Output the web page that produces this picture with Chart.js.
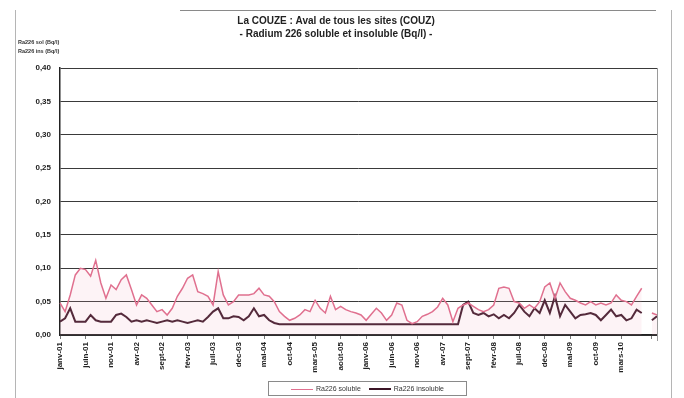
<!DOCTYPE html>
<html>
<head>
<meta charset="utf-8">
<script src="https://cdn.jsdelivr.net/npm/chart.js@4/dist/chart.umd.min.js"></script>
<style>
  html, body { margin: 0; padding: 0; background: #fff; }
  body { width: 684px; height: 398px; position: relative; overflow: hidden; font-family: "Liberation Sans", Arial, sans-serif; }
  #wrap { position: absolute; left: 0; top: 0; width: 684px; height: 398px; }
  .frame { position: absolute; left: 15px; top: 10px; width: 655px; height: 400px; border-left: 1px solid #b5b5b5; border-right: 1px solid #b5b5b5; }
  .topline { position: absolute; left: 180px; top: 10px; width: 476px; height: 0; border-top: 1px solid #8a8a8a; }
  .ytitle { position: absolute; left: 18px; top: 38px; font-size: 5.5px; font-weight: bold; color: #333; line-height: 9px; white-space: nowrap; }
  .legend { position: absolute; left: 268px; top: 381px; width: 197px; height: 13px; border: 1px solid #8a8a8a; font-size: 7px; color: #333; display: flex; align-items: center; justify-content: center; gap: 8px; }
  .legend span.l { display: inline-block; width: 22px; height: 0; vertical-align: middle; margin-right: 3px; }
</style>
</head>
<body>
<div id="wrap"><canvas id="js-chartjs-couze" width="684" height="398"></canvas></div>
<div class="frame"></div>
<div class="topline"></div>
<div class="ytitle">Ra226 sol (Bq/l)<br>Ra226 ins (Bq/l)</div>
<div class="legend">
  <span><span class="l" style="border-top:1.5px solid #e0708f"></span>Ra226 soluble</span>
  <span><span class="l" style="border-top:2px solid #3b1526"></span>Ra226 insoluble</span>
</div>
<script>
// Tick labels (one every 5 samples)
const tickLabels = ['janv-01', 'juin-01', 'nov-01', 'avr-02', 'sept-02', 'févr-03', 'juil-03', 'déc-03',
  'mai-04', 'oct-04', 'mars-05', 'août-05', 'janv-06', 'juin-06', 'nov-06', 'avr-07', 'sept-07',
  'févr-08', 'juil-08', 'déc-08', 'mai-09', 'oct-09', 'mars-10'];

// Ra226 soluble (Bq/l)
const soluble = [
  0.048, 0.035, 0.060, 0.090, 0.100, 0.098, 0.088, 0.112, 0.078, 0.055,
  0.075, 0.068, 0.083, 0.090, 0.068, 0.045, 0.060, 0.055, 0.045, 0.035,
  0.038, 0.030, 0.040, 0.058, 0.070, 0.085, 0.090, 0.065, 0.062, 0.058,
  0.045, 0.095, 0.060, 0.045, 0.050, 0.060, 0.060, 0.060, 0.062, 0.070,
  0.060, 0.058, 0.050, 0.035, 0.028, 0.022, 0.025, 0.030, 0.038, 0.035,
  0.052, 0.040, 0.033, 0.058, 0.038, 0.043, 0.038, 0.035, 0.033, 0.030,
  0.022, 0.031, 0.040, 0.033, 0.022, 0.030, 0.048, 0.045, 0.022, 0.017,
  0.020, 0.028, 0.031, 0.035, 0.042, 0.055, 0.045, 0.020, 0.040, 0.045,
  0.048, 0.043, 0.038, 0.035, 0.038, 0.045, 0.070, 0.072, 0.070, 0.050,
  0.048, 0.040, 0.045, 0.040, 0.050, 0.072, 0.078, 0.055, 0.078, 0.065,
  0.055, 0.052, 0.048, 0.045, 0.050, 0.045, 0.048, 0.045, 0.048, 0.060,
  0.052, 0.050, 0.045, 0.058, 0.070, 0.040, 0.033, 0.030
];

// Ra226 insoluble (Bq/l)
const insoluble = [
  0.020, 0.025, 0.040, 0.020, 0.020, 0.020, 0.030, 0.022, 0.020, 0.020,
  0.020, 0.030, 0.032, 0.027, 0.020, 0.022, 0.020, 0.022, 0.020, 0.018,
  0.020, 0.022, 0.020, 0.022, 0.020, 0.018, 0.020, 0.022, 0.020, 0.027,
  0.035, 0.040, 0.025, 0.025, 0.028, 0.027, 0.022, 0.028, 0.040, 0.028,
  0.030, 0.022, 0.018, 0.016, 0.016, 0.016, 0.016, 0.016, 0.016, 0.016,
  0.016, 0.016, 0.016, 0.016, 0.016, 0.016, 0.016, 0.016, 0.016, 0.016,
  0.016, 0.016, 0.016, 0.016, 0.016, 0.016, 0.016, 0.016, 0.016, 0.016,
  0.016, 0.016, 0.016, 0.016, 0.016, 0.016, 0.016, 0.016, 0.016, 0.045,
  0.050, 0.033, 0.030, 0.033, 0.028, 0.031, 0.025, 0.030, 0.025, 0.033,
  0.045, 0.035, 0.028, 0.040, 0.033, 0.052, 0.033, 0.058, 0.028, 0.045,
  0.035, 0.025, 0.030, 0.031, 0.033, 0.030, 0.022, 0.030, 0.038, 0.028,
  0.030, 0.022, 0.025, 0.038, 0.033, 0.025, 0.022, 0.028
];

const categories = soluble.map((v, i) => (i % 5 === 0 ? tickLabels[i / 5] : ''));

// Right edge of the plot area
const plotFrame = {
  id: 'plotFrame',
  afterDraw(chart) {
    const {ctx, chartArea} = chart;
    ctx.save();
    ctx.strokeStyle = '#9a9a9a';
    ctx.lineWidth = 1;
    ctx.beginPath();
    ctx.moveTo(chartArea.right + 0.5, chartArea.top);
    ctx.lineTo(chartArea.right + 0.5, chartArea.bottom + 6);
    ctx.stroke();
    ctx.restore();
  }
};

let chartCon = document.getElementById('js-chartjs-couze');

let chartData = {
  labels: categories,
  datasets: [
    {
      label: 'Ra226 soluble',
      data: soluble,
      borderColor: '#e0708f',
      backgroundColor: 'rgba(240,170,190,.14)',
      fill: 'origin',
      borderWidth: 1.5,
      pointRadius: 0,
      tension: 0
    },
    {
      label: 'Ra226 insoluble',
      data: insoluble,
      borderColor: '#3b1526',
      borderWidth: 2,
      pointRadius: 0,
      fill: false,
      tension: 0
    }
  ]
};

let chartOptions = {
  responsive: false,
  animation: false,
  layout: { padding: { left: 15, right: 27, top: 0, bottom: 0 } },
  scales: {
    x: {
      ticks: {
        autoSkip: false,
        maxRotation: 90,
        minRotation: 90,
        padding: 3,
        color: '#222',
        font: { family: 'Liberation Sans', size: 8, weight: 'bold' }
      },
      grid: {
        drawOnChartArea: false,
        drawTicks: true,
        tickLength: 4,
        color: ctx => (ctx.index % 5 === 0 ? '#777' : 'transparent')
      },
      border: { color: '#222', width: 1.5 },
      afterFit: scale => { scale.height = 63; }
    },
    y: {
      min: 0,
      max: 0.4,
      ticks: {
        stepSize: 0.05,
        padding: 9,
        color: '#222',
        font: { family: 'Liberation Sans', size: 8, weight: 'bold' },
        callback: v => v.toFixed(2).replace('.', ',')
      },
      grid: { color: '#3a3a3a', lineWidth: 1, drawTicks: false },
      border: { color: '#222', width: 1.5 },
      afterFit: scale => { scale.width = 45; }
    }
  },
  plugins: {
    legend: { display: false },
    tooltip: { enabled: false },
    title: {
      display: true,
      text: ['La COUZE : Aval de tous les sites (COUZ)', '- Radium 226 soluble et insoluble (Bq/l) -'],
      color: '#222',
      font: { family: 'Liberation Sans', size: 10, weight: 'bold', lineHeight: 1.3 },
      padding: { top: 15, bottom: 27 }
    }
  }
};

new Chart(chartCon, { type: 'line', data: chartData, options: chartOptions, plugins: [plotFrame] });
</script>
</body>
</html>
